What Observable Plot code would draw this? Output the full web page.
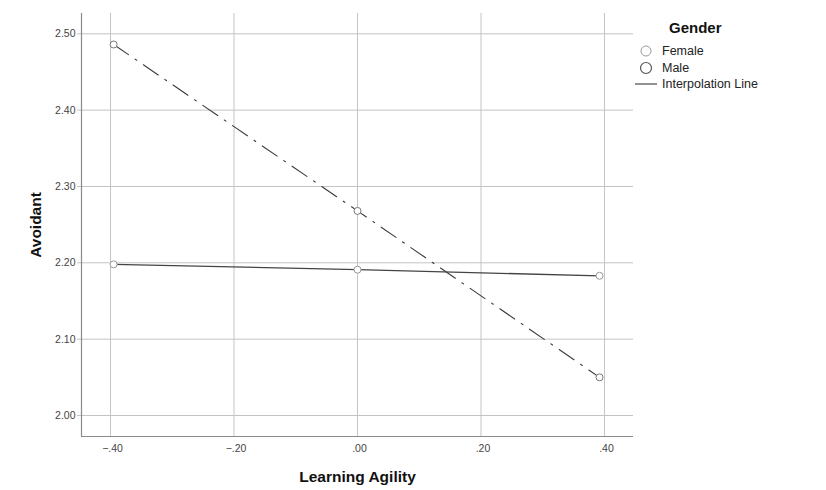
<!DOCTYPE html>
<html>
<head>
<meta charset="utf-8">
<script src="https://cdn.jsdelivr.net/npm/d3@7"></script>
<script src="https://cdn.jsdelivr.net/npm/@observablehq/plot@0.6"></script>
<style>
  body { margin: 0; background: #fff; font-family: "Liberation Sans", Arial, sans-serif; }
  #wrap { position: relative; width: 826px; height: 490px; }
  #legend { position: absolute; left: 630px; top: 19px; font-size: 12.5px; color: #222; }
  #legend .title { font-weight: bold; font-size: 15px; line-height: 18px; margin-left: 39px; margin-bottom: 6px; color: #111; }
  #legend .row { display: flex; align-items: center; height: 16.5px; }
  #legend .sym { width: 32px; display: flex; justify-content: center; align-items: center; }
</style>
</head>
<body>
<div id="wrap"></div>
<script>
// Data
const learningAgility = [-0.395, 0.00, 0.392];
const femaleAvoidant = [2.198, 2.191, 2.183];
const maleAvoidant   = [2.486, 2.268, 2.050];
const xTicks = [-0.4, -0.2, 0.0, 0.2, 0.4];
const yTicks = [2.0, 2.1, 2.2, 2.3, 2.4, 2.5];
const xDomain = [-0.447, 0.447];
const yDomain = [1.9725, 2.5266];

const female = learningAgility.map((x, i) => ({x, y: femaleAvoidant[i], g: "Female"}));
const male = learningAgility.map((x, i) => ({x, y: maleAvoidant[i], g: "Male"}));

const fmtX = d => d3.format(".2f")(d).replace("0.", ".");
const fmtY = d => d3.format(".2f")(d);

const gridColor = "#c4c4c4";
const chart = Plot.plot({
  width: 826,
  height: 490,
  marginLeft: 81,
  marginRight: 193,
  marginTop: 13,
  marginBottom: 54,
  style: {fontFamily: "'Liberation Sans', Arial, sans-serif", background: "#fff", color: "#333"},
  x: {domain: xDomain},
  y: {domain: yDomain},
  marks: [
    Plot.gridX(xTicks, {stroke: gridColor, strokeOpacity: 1}),
    Plot.gridY(yTicks, {stroke: gridColor, strokeOpacity: 1}),
    Plot.axisY(yTicks, {tickSize: 4, tickPadding: 2, tickFormat: fmtY, stroke: gridColor, fontSize: 10.5, fill: "#444",
      label: "Avoidant", labelAnchor: "center", labelOffset: 52, labelArrow: "none"}),
    Plot.axisX(xTicks, {tickSize: 0, tickPadding: 8, tickFormat: fmtX, fontSize: 10.5, fill: "#444", dx: 2,
      label: "Learning Agility", labelAnchor: "center", labelOffset: 45, labelArrow: "none"}),
    Plot.ruleX([xDomain[0]], {stroke: "#8a8a8a", strokeWidth: 1.2}),
    Plot.ruleY([yDomain[0]], {stroke: "#8a8a8a", strokeWidth: 1.2}),
    Plot.line(male, {x: "x", y: "y", stroke: "#3a3a3a", strokeWidth: 1.1, strokeDasharray: "18,8,2,8"}),
    Plot.line(female, {x: "x", y: "y", stroke: "#444", strokeWidth: 1.3}),
    Plot.dot(male, {x: "x", y: "y", r: 3.5, stroke: "#777", fill: "white", strokeWidth: 1}),
    Plot.dot(female, {x: "x", y: "y", r: 3.5, stroke: "#999", fill: "white", strokeWidth: 1})
  ]
});
document.getElementById("wrap").appendChild(chart);

// style axis labels bold & larger
d3.select(chart).selectAll("g[aria-label='y-axis label'] text, g[aria-label='x-axis label'] text")
  .style("font-weight", "bold").style("font-size", "15.5px").attr("fill", "#111");

// Legend
const legend = document.createElement("div");
legend.id = "legend";
legend.innerHTML = `
  <div class="title">Gender</div>
  <div class="row"><div class="sym"><svg width="14" height="14"><circle cx="7" cy="7" r="5" fill="white" stroke="#999"/></svg></div>Female</div>
  <div class="row"><div class="sym"><svg width="14" height="14"><circle cx="7" cy="7" r="5.5" fill="white" stroke="#555" stroke-width="1.2"/></svg></div>Male</div>
  <div class="row"><div class="sym"><svg width="22" height="6"><line x1="0" x2="22" y1="3" y2="3" stroke="#555" stroke-width="1.3"/></svg></div>Interpolation Line</div>`;
document.getElementById("wrap").appendChild(legend);
</script>
</body>
</html>
